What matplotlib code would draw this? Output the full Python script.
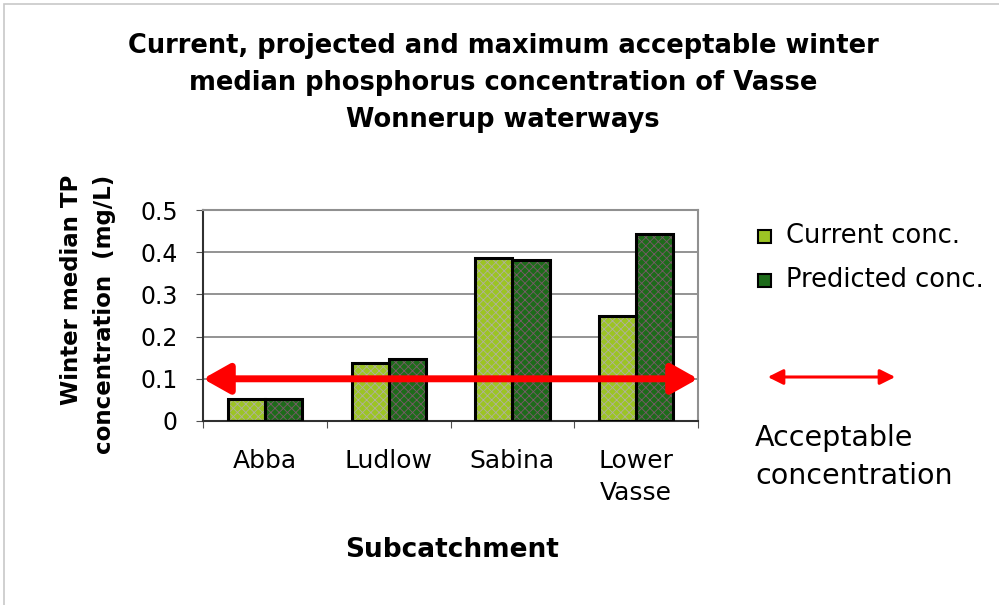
import numpy as np
import matplotlib.pyplot as plt
from matplotlib.patches import Rectangle, FancyArrowPatch
# winter median TP per subcatchment, current vs predicted

categories = ["Abba", "Ludlow", "Sabina", "Lower\nVasse"]
current = [0.052, 0.137, 0.387, 0.250]
predicted = [0.052, 0.148, 0.381, 0.442]
acceptable = 0.1
yticks = [0, 0.1, 0.2, 0.3, 0.4, 0.5]
yticklabels = ["0", "0.1", "0.2", "0.3", "0.4", "0.5"]

plt.rcParams['font.family'] = ['DejaVu Sans']
plt.rcParams['hatch.linewidth'] = 0.6

W, H = 999, 605
fig = plt.figure(figsize=(W / 100, H / 100), dpi=100)
ax = fig.add_axes([203 / W, 1 - 421 / H, 495 / W, 211 / H])

light = "#9cc424"
dark = "#1d6b1a"
x = np.arange(len(categories))
bw = 0.3

def hatched_bars(xpos, vals, face, hatchcol):
    # hatch pass then black outline pass
    ax.bar(xpos, vals, bw, color=face, edgecolor=hatchcol, hatch="xxxx",
           linewidth=0, zorder=2)
    ax.bar(xpos, vals, bw, fill=False, edgecolor="black", linewidth=2.2, zorder=3)

hatched_bars(x - bw / 2, current, light, "#b0b0a0")
hatched_bars(x + bw / 2, predicted, dark, "#7a5a6a")

ax.set_xlim(-0.5, len(categories) - 0.5)
ax.set_ylim(0, 0.5)
ax.set_yticks(yticks)
ax.set_yticklabels(yticklabels, fontsize=17)
ax.yaxis.grid(True, color="#808080", linewidth=1.2)
ax.set_axisbelow(True)
ax.set_xticks(np.arange(-0.5, len(categories), 1.0))
ax.set_xticklabels([])
ax.set_xticks(x, minor=True)
ax.set_xticklabels(categories, minor=True, fontsize=18, linespacing=1.45,
                   va="top")
ax.tick_params(axis="x", which="minor", length=0, pad=20)
ax.tick_params(axis="x", which="major", length=5, direction="out", color="#505050")
ax.tick_params(axis="y", length=5, direction="out", color="#505050", pad=13)
for s in ["top", "right"]:
    ax.spines[s].set_color("#909090")
    ax.spines[s].set_linewidth(1.5)
for s in ["left", "bottom"]:
    ax.spines[s].set_color("#303030")
    ax.spines[s].set_linewidth(1.5)

# acceptable concentration arrow
ax.annotate("", xy=(-0.5, acceptable), xytext=(len(categories) - 0.5, acceptable),
            arrowprops=dict(arrowstyle="<|-|>,head_length=0.8,head_width=0.45",
                            color="#ff0000", lw=5, shrinkA=0, shrinkB=0,
                            mutation_scale=20), zorder=4)

fig.text(452 / W, 1 - 550 / H, "Subcatchment", ha="center", va="center",
         fontsize=19, fontweight="bold")
fig.text(88 / W, 1 - 175 / H, "Winter median TP\nconcentration  (mg/L)",
         rotation=90, ha="center", va="top", fontsize=16.5, fontweight="bold",
         linespacing=1.6, multialignment="right")

fig.text(503 / W, 1 - 83 / H,
         "Current, projected and maximum acceptable winter\n"
         "median phosphorus concentration of Vasse\n"
         "Wonnerup waterways",
         ha="center", va="center", fontsize=18.5, fontweight="bold", linespacing=1.55)

# legend on the right
for ypix, face, lab in [(236, light, "Current conc."),
                        (280, dark, "Predicted conc.")]:
    fig.patches.append(Rectangle((758 / W, 1 - (ypix + 7) / H), 13 / W, 13 / H,
                                 transform=fig.transFigure, facecolor=face,
                                 edgecolor="black", linewidth=1.5))
    fig.text(786 / W, 1 - ypix / H, lab, ha="left", va="center", fontsize=18.5)

fig.patches.append(FancyArrowPatch((765 / W, 1 - 377 / H), (898 / W, 1 - 377 / H),
                                   transform=fig.transFigure,
                                   arrowstyle="<|-|>,head_length=0.7,head_width=0.35",
                                   mutation_scale=13, color="#ff0000", lw=2.2))
fig.text(755 / W, 1 - 457 / H, "Acceptable\nconcentration", ha="left",
         va="center", fontsize=20.5, linespacing=1.45)

fig.patches.append(Rectangle((4 / W, -0.01), 1.0, 1 - 4 / H + 0.01,
                             transform=fig.transFigure, fill=False,
                             edgecolor="#c8c8c8", linewidth=1.2))

fig.savefig("out.png", dpi=100)
